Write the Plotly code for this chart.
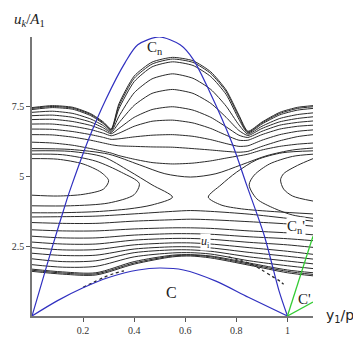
import plotly.graph_objects as go

# ---------------- data ----------------
# blue separatrix curves
cn_x = [0, 0.029, 0.079, 0.137, 0.156, 0.22, 0.289, 0.365, 0.414, 0.498, 0.58, 0.631, 0.695, 0.783, 0.84, 0.91, 0.967, 1.0]
cn_y = [0, 0.9, 2.46, 4.19, 4.7, 6.3, 7.76, 9.09, 9.72, 10.0, 9.72, 9.2, 8.05, 6.2, 4.7, 2.86, 0.9, 0]
c_x = [0, 0.1, 0.2, 0.3, 0.416, 0.5, 0.593, 0.72, 0.847, 1.0]
c_y = [0, 0.55, 1.01, 1.38, 1.65, 1.72, 1.65, 1.25, 0.67, 0]
# green branches
cnp_x = [1.0, 1.1]
cnp_y = [0, 2.86]
cp_x = [1.0, 1.1]
cp_y = [0, 0.5]

# upper band lines (pass through the two cusps and over the C_n arch)
p_x = [0, 0.08, 0.16, 0.23, 0.28, 0.31, 0.34, 0.40, 0.47, 0.55, 0.63, 0.70, 0.76, 0.81, 0.845, 0.90, 0.97, 1.04, 1.1]
p_lines = [
    [7.47, 7.54, 7.48, 7.25, 6.95, 6.7, 7.6, 8.6, 9.1, 9.27, 9.15, 8.75, 8.1, 7.2, 6.62, 6.95, 7.3, 7.48, 7.54],
    [7.44, 7.51, 7.45, 7.22, 6.92, 6.68, 7.52, 8.52, 9.03, 9.21, 9.09, 8.69, 8.04, 7.14, 6.59, 6.92, 7.26, 7.44, 7.50],
    [7.40, 7.47, 7.41, 7.18, 6.89, 6.66, 7.42, 8.4, 8.93, 9.11, 8.98, 8.58, 7.94, 7.05, 6.56, 6.88, 7.21, 7.38, 7.44],
    [7.30, 7.34, 7.26, 7.06, 6.82, 6.62, 7.15, 8.0, 8.5, 8.68, 8.52, 8.12, 7.52, 6.85, 6.52, 6.8, 7.08, 7.22, 7.28],
    [7.18, 7.2, 7.12, 6.95, 6.74, 6.58, 6.92, 7.55, 7.98, 8.12, 7.98, 7.62, 7.12, 6.65, 6.47, 6.72, 6.96, 7.08, 7.14],
    [7.04, 7.05, 6.97, 6.83, 6.66, 6.53, 6.72, 7.12, 7.4, 7.5, 7.38, 7.12, 6.78, 6.48, 6.4, 6.62, 6.84, 6.94, 6.99],
    [6.88, 6.88, 6.8, 6.68, 6.55, 6.46, 6.55, 6.8, 6.98, 7.02, 6.92, 6.72, 6.48, 6.3, 6.3, 6.5, 6.7, 6.8, 6.84],
    [6.70, 6.69, 6.61, 6.5, 6.4, 6.33, 6.35, 6.42, 6.48, 6.5, 6.44, 6.32, 6.18, 6.08, 6.1, 6.3, 6.5, 6.62, 6.67],
    [6.50, 6.49, 6.41, 6.3, 6.2, 6.14, 6.1, 6.08, 6.06, 6.05, 6.0, 5.95, 5.9, 5.87, 5.9, 6.08, 6.28, 6.43, 6.5],
    [6.23, 6.2, 6.12, 6.0, 5.9, 5.84, 5.75, 5.62, 5.5, 5.45, 5.48, 5.56, 5.66, 5.74, 5.8, 5.95, 6.08, 6.16, 6.2],
]

# line passing just above the saddle
m1_x = [0, 0.15, 0.3, 0.42, 0.52, 0.62, 0.72, 0.82, 0.92, 1.02, 1.1]
m1_y = [6.0, 5.97, 5.8, 5.42, 5.1, 4.98, 5.1, 5.42, 5.75, 5.95, 6.02]

# left island (closed curves cut by the axis)
a_lines = [
    ([0, 0.1, 0.2, 0.27, 0.30, 0.28, 0.2, 0.1, 0], [5.64, 5.62, 5.45, 5.15, 4.85, 4.55, 4.36, 4.3, 4.33]),
    ([0, 0.12, 0.25, 0.35, 0.42, 0.40, 0.3, 0.15, 0], [5.8, 5.78, 5.55, 5.15, 4.75, 4.35, 4.05, 3.95, 3.95]),
    ([0, 0.15, 0.28, 0.38, 0.47, 0.55, 0.47, 0.38, 0.25, 0.1, 0], [5.92, 5.9, 5.7, 5.2, 4.7, 4.26, 3.98, 3.84, 3.74, 3.7, 3.7]),
]
# right island
b_lines = [
    ([1.1, 1.04, 0.985, 0.973, 0.985, 1.02, 1.1], [5.64, 5.4, 5.1, 4.88, 4.55, 4.3, 4.12]),
    ([1.1, 1.02, 0.93, 0.87, 0.85, 0.88, 0.95, 1.02, 1.1], [5.8, 5.72, 5.45, 5.05, 4.7, 4.2, 3.85, 3.62, 3.5]),
    ([1.1, 0.98, 0.88, 0.8, 0.74, 0.69, 0.74, 0.82, 0.95, 1.1], [5.92, 5.85, 5.6, 5.15, 4.7, 4.26, 3.98, 3.84, 3.74, 3.66]),
]

# lower band lines
lw_x = [0, 0.12, 0.25, 0.4, 0.55, 0.62, 0.7, 0.85, 1.0, 1.1]
lw_lines = [
    [3.55, 3.56, 3.58, 3.66, 3.75, 3.78, 3.75, 3.65, 3.5, 3.4],
    [3.35, 3.32, 3.32, 3.4, 3.45, 3.47, 3.45, 3.38, 3.3, 3.22],
    [3.09, 3.05, 3.05, 3.12, 3.16, 3.16, 3.14, 3.05, 2.98, 2.91],
    [2.86, 2.8, 2.8, 2.9, 2.95, 2.95, 2.93, 2.84, 2.77, 2.70],
    [2.65, 2.58, 2.58, 2.72, 2.78, 2.78, 2.75, 2.64, 2.55, 2.46],
    [2.45, 2.37, 2.38, 2.55, 2.62, 2.62, 2.58, 2.45, 2.32, 2.21],
    [2.25, 2.17, 2.18, 2.4, 2.48, 2.48, 2.44, 2.28, 2.14, 2.04],
    [2.05, 1.95, 1.98, 2.27, 2.37, 2.37, 2.32, 2.12, 1.97, 1.87],
    [1.84, 1.75, 1.78, 2.12, 2.26, 2.27, 2.22, 1.98, 1.8, 1.70],
    [1.68, 1.58, 1.55, 1.95, 2.18, 2.2, 2.15, 1.9, 1.65, 1.55],
    [1.64, 1.54, 1.51, 1.9, 2.15, 2.18, 2.12, 1.86, 1.6, 1.49],
    [1.60, 1.50, 1.47, 1.86, 2.12, 2.15, 2.08, 1.82, 1.55, 1.44],
]

# chaotic (dotted) trajectories near C
d1_x = [0.77, 0.82, 0.86, 0.9, 0.94, 0.97, 0.985]
d1_y = [2.12, 1.98, 1.85, 1.65, 1.42, 1.25, 1.14]
d2_x = [0.2, 0.24, 0.28, 0.32, 0.36]
d2_y = [1.03, 1.2, 1.38, 1.52, 1.62]

x_ticks = [0.2, 0.4, 0.6, 0.8, 1]
x_tick_text = ["0.2", "0.4", "0.6", "0.8", "1"]
y_ticks = [2.5, 5, 7.5]
y_tick_text = ["2.5", "5", "7.5"]

# ---------------- figure ----------------
fig = go.Figure()
black = "#2a2a2a"

def add_line(x, y, color=black, width=1.0, dash=None, smooth=0.8):
    fig.add_trace(go.Scatter(x=x, y=y, mode="lines",
                             line=dict(color=color, width=width, shape="spline",
                                       smoothing=smooth, dash=dash),
                             hoverinfo="skip", showlegend=False))

for ys in p_lines:
    add_line(p_x, ys, smooth=0.6)
add_line(m1_x, m1_y)
for xs, ys in a_lines:
    add_line(xs, ys)
for xs, ys in b_lines:
    add_line(xs, ys)
for ys in lw_lines:
    add_line(lw_x, ys)
add_line(d1_x, d1_y, dash="dot", width=1.3)
add_line(d2_x, d2_y, dash="dot", width=1.3)

blue = "#3030c0"
green = "#33cc33"
add_line(cn_x, cn_y, color=blue, width=1.2)
add_line(c_x, c_y, color=blue, width=1.2)
fig.add_trace(go.Scatter(x=cnp_x, y=cnp_y, mode="lines", line=dict(color=green, width=1.3),
                         hoverinfo="skip", showlegend=False))
fig.add_trace(go.Scatter(x=cp_x, y=cp_y, mode="lines", line=dict(color=green, width=1.3),
                         hoverinfo="skip", showlegend=False))

serif = "Liberation Serif"
anns = [
    dict(x=0.48, y=9.62, text="C<sub>n</sub>", font=dict(family=serif, size=15, color="#222")),
    dict(x=1.035, y=3.2, text="C<sub>n</sub>'", font=dict(family=serif, size=15, color="#222"),
         bgcolor="white", borderpad=0),
    dict(x=1.065, y=0.6, text="C'", font=dict(family=serif, size=15, color="#222")),
    dict(x=0.545, y=0.85, text="C", font=dict(family=serif, size=16, color="#222")),
    dict(x=0.68, y=2.65, text="<i>u</i><sub>i</sub>", font=dict(family=serif, size=12, color="#222"),
         bgcolor="white", borderpad=0),
]
for a in anns:
    fig.add_annotation(xref="x", yref="y", showarrow=False, **a)

fig.add_annotation(xref="paper", yref="paper", x=-0.07, y=1.06, xanchor="left", yanchor="middle",
                   text="<i>u</i><sub><i>k</i></sub>/<i>A</i><sub>1</sub>", showarrow=False,
                   font=dict(family=serif, size=15, color="#222"))
fig.add_annotation(xref="paper", yref="paper", x=1.04, y=0.0, xanchor="left", yanchor="middle",
                   text="y<sub>1</sub>/p", showarrow=False,
                   font=dict(family="DejaVu Sans", size=14, color="#222"))

fig.update_layout(
    width=353, height=348,
    margin=dict(l=24, r=40, t=37, b=22),
    paper_bgcolor="white", plot_bgcolor="white",
    xaxis=dict(range=[0, 1.1], showgrid=False, zeroline=False, showline=True,
               linecolor="#777", linewidth=1.5, ticks="outside", ticklen=4, tickcolor="#555",
               tickvals=x_ticks, ticktext=x_tick_text,
               tickfont=dict(family=serif, size=10, color="#333")),
    yaxis=dict(range=[0, 10], showgrid=False, zeroline=False, showline=True,
               linecolor="#777", linewidth=1.5, ticks="outside", ticklen=4, tickcolor="#555",
               tickvals=y_ticks, ticktext=y_tick_text,
               tickfont=dict(family=serif, size=10, color="#333")),
)

fig.write_html("out.html")
